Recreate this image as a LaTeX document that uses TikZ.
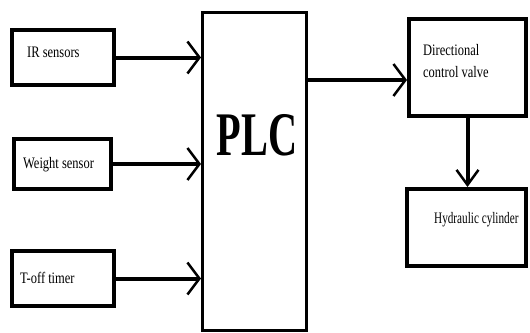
\documentclass[tikz,border=0pt]{standalone}
\usepackage{fontspec}
\setmainfont{Liberation Serif}
\newfontfamily\condfont[FakeStretch=0.78]{Liberation Serif}
\newfontfamily\hydfont[FakeStretch=0.70]{Liberation Serif}
\newfontfamily\plcfont[FakeStretch=0.65]{Liberation Serif}
\usetikzlibrary{arrows.meta}
\begin{document}
\begin{tikzpicture}[x=1pt,y=-1pt,
  box/.style={draw, line width=4pt, inner sep=0pt, outer sep=auto},
  plcbox/.style={draw, line width=3pt, inner sep=0pt, outer sep=auto},
  lbl/.style={anchor=base west, inner sep=0pt, font=\condfont\fontsize{16}{18}\selectfont},
  arr/.style={line width=4pt, -{Straight Barb[length=12pt,width=32pt,line width=2.5pt]}},
  varr/.style={line width=4pt, -{Straight Barb[length=15pt,width=22pt,line width=2.5pt]}}]
\useasboundingbox (0,0) rectangle (530,332);
% boxes
\node[box, minimum width=102pt, minimum height=55pt] (ir) at (63,57.5) {};
\node[box, minimum width=97pt, minimum height=50pt] (ws) at (62.5,164) {};
\node[box, minimum width=102pt, minimum height=55pt] (to) at (63,278.5) {};
\node[plcbox, minimum width=104pt, minimum height=318pt] (plc) at (254.5,171) {};
\node[box, minimum width=117pt, minimum height=97pt] (dcv) at (467.5,67.5) {};
\node[box, minimum width=119pt, minimum height=77pt] (hyd) at (466.5,227.5) {};
% labels
\node[lbl] (irt) at (27,57) {IR sensors};
\node[lbl] (wst) at (23,168) {Weight sensor};
\node[lbl] (tot) at (20,283) {T-off timer};
\node[lbl] (dcvt1) at (423,55) {Directional};
\node[lbl] (dcvt2) at (423,77) {control valve};
\node[lbl, font=\hydfont\fontsize{16}{18}\selectfont] (hydt) at (434,223) {Hydraulic cylinder};
\node[anchor=base, inner sep=0pt, font=\plcfont\bfseries\fontsize{62}{62}\selectfont] (plct) at (257,155) {PLC};
% connectors
\draw[arr] (ir.east) -- (ir.east -| plc.west);
\draw[arr] (ws.east) -- (ws.east -| plc.west);
\draw[arr] (to.east) -- (to.east -| plc.west);
\coordinate (dcvin) at ([yshift=-12.5pt]dcv.west);
\draw[arr] (plc.east |- dcvin) -- (dcvin);
\draw[varr] (dcv.south) -- (dcv.south |- hyd.north);
\end{tikzpicture}
\end{document}
